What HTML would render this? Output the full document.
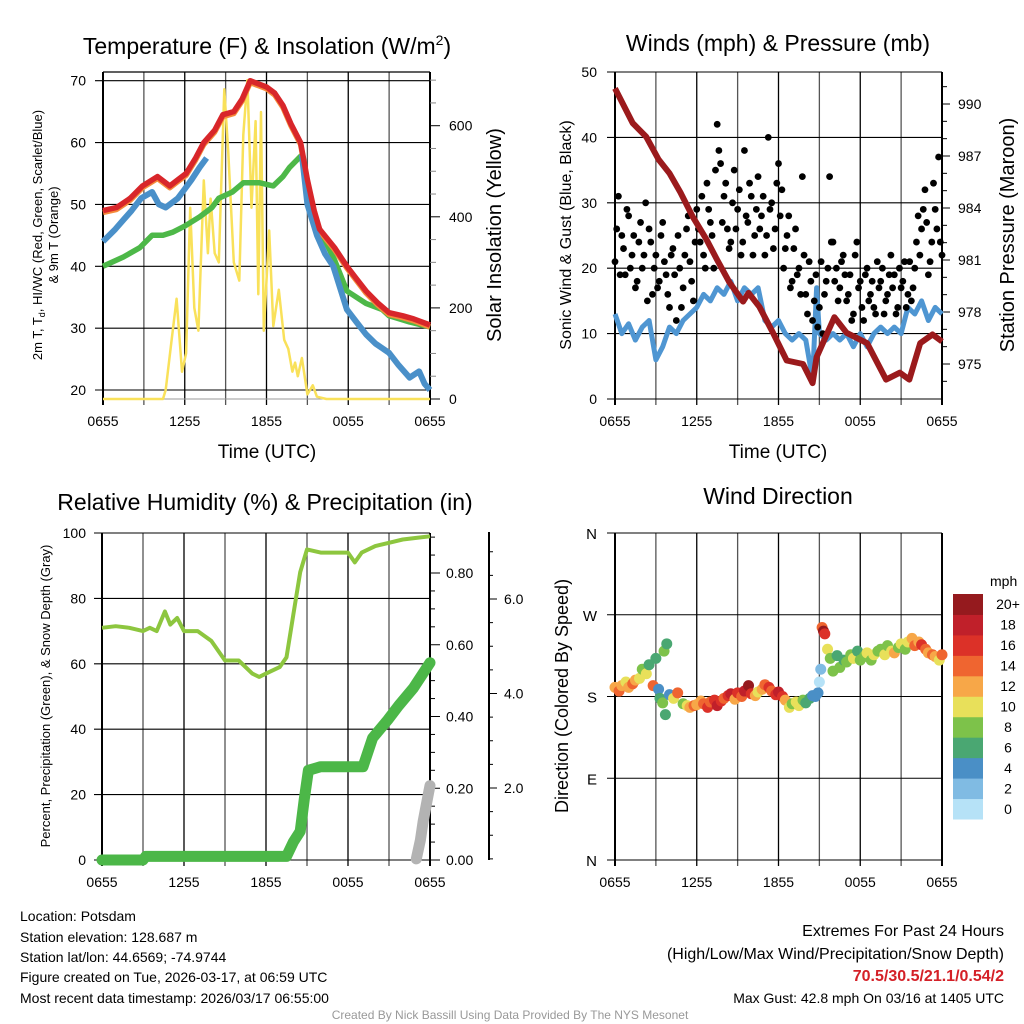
<!DOCTYPE html>
<html><head><meta charset="utf-8"><style>
html,body{margin:0;padding:0;background:#fff}
svg{display:block;font-family:"Liberation Sans",sans-serif}
</style></head><body>
<svg id="c" width="1024" height="1024" viewBox="0 0 1024 1024" xmlns="http://www.w3.org/2000/svg">
<rect width="1024" height="1024" fill="#fff"/>
<g id="p1"></g>
<g id="p2"></g>
<g id="p3"></g>
<g id="p4"></g>
<text x="267" y="54" font-size="23" text-anchor="middle">Temperature (F) &amp; Insolation (W/m<tspan dy="-9" font-size="14">2</tspan><tspan dy="9">)</tspan></text>
<text x="778" y="51" font-size="23" text-anchor="middle">Winds (mph) &amp; Pressure (mb)</text>
<text x="265" y="510" font-size="23" text-anchor="middle">Relative Humidity (%) &amp; Precipitation (in)</text>
<text x="778" y="504" font-size="23" text-anchor="middle">Wind Direction</text>
<text x="267" y="458" font-size="19" text-anchor="middle">Time (UTC)</text>
<text x="778" y="458" font-size="19" text-anchor="middle">Time (UTC)</text>
<text transform="translate(42,235) rotate(-90)" font-size="13" text-anchor="middle">2m T, T<tspan font-size="9" dy="3">d</tspan><tspan dy="-3">, HI/WC (Red, Green, Scarlet/Blue)</tspan></text>
<text transform="translate(58,235) rotate(-90)" font-size="13" text-anchor="middle">&amp; 9m T (Orange)</text>
<text transform="translate(501,235) rotate(-90)" font-size="20" text-anchor="middle">Solar Insolation (Yellow)</text>
<text transform="translate(571,235) rotate(-90)" font-size="16" text-anchor="middle">Sonic Wind &amp; Gust (Blue, Black)</text>
<text transform="translate(1014,235) rotate(-90)" font-size="20" text-anchor="middle">Station Pressure (Maroon)</text>
<text transform="translate(50,696) rotate(-90)" font-size="13" text-anchor="middle">Percent, Precipitation (Green), &amp; Snow Depth (Gray)</text>
<text transform="translate(568,696) rotate(-90)" font-size="18" text-anchor="middle">Direction (Colored By Speed)</text>
<g font-size="14">
<text x="20" y="921">Location: Potsdam</text>
<text x="20" y="942">Station elevation: 128.687 m</text>
<text x="20" y="962">Station lat/lon: 44.6569; -74.9744</text>
<text x="20" y="982">Figure created on Tue, 2026-03-17, at 06:59 UTC</text>
<text x="20" y="1003">Most recent data timestamp: 2026/03/17 06:55:00</text>
</g>
<g text-anchor="end">
<text x="1004" y="936" font-size="16">Extremes For Past 24 Hours</text>
<text x="1004" y="959" font-size="16">(High/Low/Max Wind/Precipitation/Snow Depth)</text>
<text x="1004" y="981" font-size="16" font-weight="bold" fill="#d42027">70.5/30.5/21.1/0.54/2</text>
<text x="1004" y="1003" font-size="14">Max Gust: 42.8 mph On 03/16 at 1405 UTC</text>
</g>
<text x="510" y="1019" font-size="12" fill="#999" text-anchor="middle">Created By Nick Bassill Using Data Provided By The NYS Mesonet</text>
</svg>
<script>
// ---- data ----
const timeTicks = ["0655","1255","1855","0055","0655"];
const redH = [0,1,2,2.9,4,4.9,5.5,6.1,6.8,7.4,8.2,8.8,9.6,10.2,10.8,11.4,12,12.6,13.2,13.8,14.5,15,15.5,15.9,17,17.9,18.6,19.3,20.2,21,22,22.8,24];
const redV = [49,49.5,51,53,54.5,53,54,55,57.5,60,62,64.5,65,67,70,69.5,69,68,66,63,60,54,49,46,43,40,38,36,34,32.5,32,31.5,30.5];
const blueH = [0,0.9,1.5,2.1,2.8,3.6,4.1,4.6,5.5,6,6.5,7.1,7.6,null,14.6,15,15.7,16.3,16.9,17.9,18.6,19.3,20,21,21.7,22.5,23.2,23.6,24];
const blueV = [44,46,47.5,49,51,52,50,49.5,51,52.5,54,56,57.5,null,58,50,45,42,40,33,31,29,27.5,26,24,22,23,21,20];
const greenH = [0,1.5,2.7,3.6,4.4,5.1,6,7.1,8,8.5,9.5,10.3,11.5,12.5,13.2,13.7,14.6,15,15.5,15.9,17,17.9,18.6,19.3,20.5,21,22.5,24];
const greenV = [40,41.5,43,45,45,45.5,46.5,48,49.5,51,52,53.5,53.5,53,54.5,56,58,52,48,46,41,36,35,34,33,32,31,30.2];
const solarH = [0,4.4,4.6,5,5.4,5.8,6.1,6.4,6.7,7.0,7.4,7.7,7.9,8.2,8.5,8.9,9.2,9.6,10,10.3,10.6,10.9,11.2,11.4,11.6,11.8,12.2,12.5,12.9,13.3,13.6,13.9,14.1,14.3,14.6,15,15.4,15.7,16.4,24];
const solarV = [0,0,20,120,220,60,100,420,200,150,480,320,440,320,300,680,540,300,260,580,700,420,610,230,630,150,370,160,240,130,110,60,80,50,90,10,30,5,0,0];
const windH = [0,0.5,1,1.5,2,2.5,3,3.5,4,4.5,5,5.5,6,6.5,7,7.5,8,8.5,9,9.5,10,10.5,11,11.5,12,12.5,13,13.5,14,14.5,14.8,15,15.5,16,16.5,17,17.5,18,18.5,19,19.5,20,20.5,21,21.5,22,22.5,23,23.5,24];
const windV = [13,10,11.5,9,11,12,6,8,11,10,12,13,14,16,15,17,16,18,15,17,16,17,12,11,12,10,9,10,9,3,17,10,9,10,9,10,8,10,8,10,11,10,11,10,14,13,15,12,14,13];
const gustV = [21,31,25,19,28,22,17,24,20,30,26,16,22,18,27,19,14,23,12,20,17,26,21,15,29,24,22,33,27,20,42,36,31,26,24,35,29,22,38,27,31,25,34,28,22,40,30,26,36,32,23,28,18,26,20,34,16,21,12,19,14,10,18,34,24,20,17,22,15,19,13,24,18,12,20,16,14,21,18,13,16,22,19,14,17,21,16,15,20,28,26,32,19,24,29,37,22];
const gustV2 = [26,19,23,29,20,25,18,27,22,15,24,20,17,25,21,16,22,19,25,14,22,28,18,24,26,31,20,29,25,35,38,27,33,23,30,26,32,24,28,33,22,29,26,31,25,29,23,33,28,20,25,17,23,19,16,22,13,18,15,11,21,16,20,24,18,15,21,19,16,12,22,17,14,19,15,18,13,17,20,15,19,17,13,20,18,14,21,17,24,22,29,27,21,33,26,24];
const presH = [0,1.3,2.3,3.2,4,4.8,5.7,6.7,7.5,8.4,9.4,9.8,10.6,11.6,12.6,13.8,14.5,14.8,16.1,17,18.5,19.9,20.9,21.6,22.4,23.3,24];
const presV = [990.9,988.9,988.1,986.8,986,984.9,983.5,982.2,981,979.7,978.6,979.1,978.3,976.8,975.2,975,973.9,975.4,977.7,976.8,976.2,974.1,974.5,974.1,976.2,976.7,976.3];
const rhH = [0,1,2,3,3.5,4,4.6,5,5.5,6,7,8,9,10,11,11.5,12,13,13.5,14,14.5,15,16,17,18,18.5,19,20,21,22,23,24];
const rhV = [71,71.5,71,70,71,70,76,72,74,70,70,67,61,61,57,56,57,59,62,75,88,95,94,94,94,91,94,96,97,98,98.5,99];
const precH = [0,3,3.2,13.5,14,14.5,14.8,15.1,16,19.1,19.8,20.9,21.7,22.8,24];
const precV = [0,0,0.01,0.01,0.05,0.08,0.17,0.25,0.26,0.26,0.34,0.39,0.43,0.48,0.55];
const snowH = [23,23.3,23.5,23.7,23.9,24];
const snowV = [0.5,0.9,1.3,1.6,1.9,2.05];
const dirH = [0,0.3,0.5,0.8,1,1.3,1.5,1.8,2,2.3,2.5,2.8,3,3.2,3.3,3.5,3.6,3.7,3.8,4,4.3,4.6,5,5.3,5.5,5.8,6,6.3,6.5,6.8,7,7.3,7.5,7.8,8,8.3,8.5,8.8,9,9.3,9.5,9.8,10,10.3,10.5,10.8,11,11.3,11.5,11.8,12,12.3,12.5,12.8,13,13.3,13.5,13.8,14,14.3,14.5,14.7,14.9,15,15.1,15.2,15.3,15.4,15.6,15.8,16,16.3,16.5,16.8,17,17.3,17.5,17.8,18,18.3,18.5,18.8,19,19.3,19.5,19.8,20,20.3,20.5,20.8,21,21.3,21.5,21.8,22,22.3,22.5,22.8,23,23.3,23.5,23.8,24];
const dirV = [190,186,192,196,190,194,198,200,210,205,215,192,222,188,178,173,230,160,238,182,178,184,172,170,168,170,171,175,172,168,174,176,170,175,178,181,183,177,184,180,186,192,183,181,185,188,193,190,186,182,185,180,176,168,172,174,170,176,173,178,181,180,184,196,210,256,252,249,232,222,208,225,212,220,218,226,222,230,220,224,228,220,226,230,232,226,236,230,228,234,238,232,240,244,236,240,237,232,228,226,224,220,226];
const dirS = [12,14,12,10,12,14,12,10,8,10,6,14,6,4,6,8,8,6,6,4,10,14,8,10,12,14,12,13,14,16,14,16,18,16,14,16,18,12,16,14,18,20,16,12,10,12,14,16,14,16,18,16,12,10,8,10,10,8,6,6,4,5,5,1,3,14,20,16,10,8,8,6,8,6,8,8,10,6,8,9,10,8,10,8,9,10,8,10,12,9,10,8,10,12,14,13,16,14,12,14,12,10,14];
const speedBins = ["0","2","4","6","8","10","12","14","16","18","20+"];
const binColors = ["#b6e2f7","#80bbe3","#4a8fc6","#4aa772","#7dc24a","#e8e05a","#f7a748","#ef6530","#dc3128","#c0202a","#951a1e"];
const tempTicks = [20,30,40,50,60,70];
const solarTicks = [0,200,400,600];
const windTicks = [0,10,20,30,40,50];
const presTicks = [975,978,981,984,987,990];
const rhTicks = [0,20,40,60,80,100];
const precTicks = [0,0.2,0.4,0.6,0.8];
const snowTicks = [2,4,6];
const dirLabels = ["N","E","S","W","N"];
const dirTicks = [0,90,180,270,360];

// ---- helpers ----
const NS="http://www.w3.org/2000/svg";
function mk(parent,tag,attrs,text){const e=document.createElementNS(NS,tag);for(const k in attrs)e.setAttribute(k,attrs[k]);if(text!==undefined)e.textContent=text;parent.appendChild(e);return e;}
function lin(d0,d1,r0,r1){return v=>r0+(v-d0)*(r1-r0)/(d1-d0);}
function pathD(hs,vs,xf,yf){let d="",pen=false;for(let i=0;i<hs.length;i++){if(hs[i]===null||vs[i]===null){pen=false;continue;}d+=(pen?"L":"M")+xf(hs[i]).toFixed(1)+","+yf(vs[i]).toFixed(1);pen=true;}return d;}
function grid(g,x0,x1,y0,y1,yvals,yf){
  for(let k=0;k<=8;k++){const x=x0+(x1-x0)*k/8;
    const l=mk(g,"line",{x1:x,x2:x,y1:y0,y2:y1+6,stroke:k%2?"#555":"#000","stroke-width":k==0||k==8?2:1.3});
    
    }
  yvals.forEach(v=>{const y=yf(v);const l=mk(g,"line",{x1:x0-8,x2:x1,y1:y,y2:y,stroke:"#000","stroke-width":1.1});
    
    });
  timeTicks.forEach((t,i)=>{const tx=mk(g,"text",{x:x0+(x1-x0)*i/4,y:y1+27,"font-size":14,"text-anchor":"middle"},t);
    
    });
}

// ---- panel 1 ----
(function(){
  const g=document.getElementById("p1");
  const X=lin(0,24,103,430), Y=lin(20,70,390,80.7), S=lin(0,600,399,125.7);
  grid(g,103,430,72,399,tempTicks,Y);
  mk(g,"line",{x1:103,x2:430,y1:72,y2:72,stroke:"#000","stroke-width":1.2});
  mk(g,"line",{x1:103,x2:430,y1:399,y2:399,stroke:"#999","stroke-width":1});
  tempTicks.forEach(v=>{const t=mk(g,"text",{x:86,y:Y(v)+5,"font-size":14,"text-anchor":"end"},v);
    
    });
  for(let v=0;v<=700;v+=50){mk(g,"line",{x1:430,x2:v%200==0?440:436,y1:S(v),y2:S(v),stroke:v%200==0?"#000":"#888","stroke-width":1});}
  solarTicks.forEach(v=>{const t=mk(g,"text",{x:449,y:S(v)+5,"font-size":14},v);
    
    });
  const s=mk(g,"path",{d:pathD(solarH,solarV,X,S),fill:"none",stroke:"#f9e15a","stroke-width":2.5,"stroke-linejoin":"round"});
  
  
  const gr=mk(g,"path",{d:pathD(greenH,greenV,X,Y),fill:"none",stroke:"#4db848","stroke-width":5.5,"stroke-linejoin":"round"});
  
  
  const o=mk(g,"path",{d:pathD(redH,redV.map(v=>v-0.3),X,Y),fill:"none",stroke:"#f58b3b","stroke-width":5.5,"stroke-linejoin":"round"});
  
  
  const b=mk(g,"path",{d:pathD(blueH,blueV,X,Y),fill:"none",stroke:"#4a90c9","stroke-width":6,"stroke-linejoin":"round"});
  
  
  const r=mk(g,"path",{d:pathD(redH,redV,X,Y),fill:"none",stroke:"#d8262a","stroke-width":5.5,"stroke-linejoin":"round"});
  
  
})();

// ---- panel 2 ----
(function(){
  const g=document.getElementById("p2");
  const X=lin(0,24,615,942), Y=lin(0,50,399,72), P=lin(975,990,364,104);
  grid(g,615,942,72,399,windTicks,Y);
  windTicks.forEach(v=>{const t=mk(g,"text",{x:597,y:Y(v)+5,"font-size":14,"text-anchor":"end"},v);
    
    });
  for(let v=974;v<=991;v++){mk(g,"line",{x1:942,x2:v%3==0?950:947,y1:P(v),y2:P(v),stroke:"#000","stroke-width":1});}
  presTicks.forEach(v=>{const t=mk(g,"text",{x:958,y:P(v)+5,"font-size":14},v);
    
    });
  const w=mk(g,"path",{d:pathD(windH,windV,X,Y),fill:"none",stroke:"#4f96d2","stroke-width":5,"stroke-linejoin":"round"});
  
  
  gustV.forEach((v,i)=>{const c=mk(g,"circle",{cx:X(i*0.25),cy:Y(v),r:3.4,fill:"#000"});
    
    });
  gustV2.forEach((v,i)=>{const c=mk(g,"circle",{cx:X(i*0.25+0.125),cy:Y(v),r:3.4,fill:"#000"});
    
    });
  const p=mk(g,"path",{d:pathD(presH,presV,X,P),fill:"none",stroke:"#9b1a1c","stroke-width":6,"stroke-linejoin":"round"});
  
  
})();

// ---- panel 3 ----
(function(){
  const g=document.getElementById("p3");
  const X=lin(0,24,102,430), Y=lin(0,100,860,533), R=lin(0,0.8,860,573), SN=lin(2,6,788,599);
  grid(g,102,430,533,860,rhTicks,Y);
  rhTicks.forEach(v=>{const t=mk(g,"text",{x:86,y:Y(v)+5,"font-size":14,"text-anchor":"end"},v);
    
    });
  mk(g,"line",{x1:430,x2:430,y1:533,y2:860,stroke:"#000","stroke-width":2});
  for(let v=0;v<=0.92;v+=0.05){mk(g,"line",{x1:430,x2:Math.round(v*100)%20==0?440:435,y1:R(v),y2:R(v),stroke:"#000","stroke-width":1});}
  precTicks.forEach(v=>{const t=mk(g,"text",{x:446,y:R(v)+5,"font-size":14},v.toFixed(2));
    
    });
  mk(g,"line",{x1:489,x2:489,y1:532,y2:860,stroke:"#000","stroke-width":2});
  for(let v=0.5;v<=7;v+=0.5){const y=SN(v);if(y<533||y>860)continue;mk(g,"line",{x1:489,x2:v%2==0?497:493,y1:y,y2:y,stroke:"#000","stroke-width":1});}
  snowTicks.forEach(v=>{const t=mk(g,"text",{x:504,y:SN(v)+5,"font-size":14},v.toFixed(1));
    
    });
  const rh=mk(g,"path",{d:pathD(rhH,rhV,X,Y),fill:"none",stroke:"#8dc63f","stroke-width":4,"stroke-linejoin":"round"});
  
  
  const sn=mk(g,"path",{d:pathD(snowH,snowV,X,SN),fill:"none",stroke:"#b3b3b3","stroke-width":11,"stroke-linecap":"round","stroke-linejoin":"round"});
  
  
  const pr=mk(g,"path",{d:pathD(precH,precV,X,R),fill:"none",stroke:"#4cb748","stroke-width":11,"stroke-linecap":"round","stroke-linejoin":"round"});
  
  
})();

// ---- panel 4 ----
(function(){
  const g=document.getElementById("p4");
  const X=lin(0,24,615,942), Y=lin(0,360,860,533);
  grid(g,615,942,533,860,dirTicks,Y);
  dirTicks.forEach((v,i)=>{const t=mk(g,"text",{x:597,y:Y(v)+6,"font-size":15,"text-anchor":"end"},dirLabels[i]);
    
    });
  dirH.forEach((h,i)=>{const bin=Math.min(10,Math.floor(dirS[i]/2));
    const c=mk(g,"circle",{cx:X(h),cy:Y(dirV[i]),r:5.5,fill:binColors[bin]});
    
    });
  const t=mk(g,"text",{x:990,y:586,"font-size":14},"mph");
  
  
  const bh=(819-594)/11;
  speedBins.forEach((lab,i)=>{const y=594+(10-i)*bh;
    const r=mk(g,"rect",{x:953,y:y,width:30,height:bh+0.5,fill:binColors[i]});
    
    
    const tx=mk(g,"text",{x:1008,y:y+bh/2+5,"font-size":14,"text-anchor":"middle"},lab);
    
    });
})();
</script>
</body></html>
